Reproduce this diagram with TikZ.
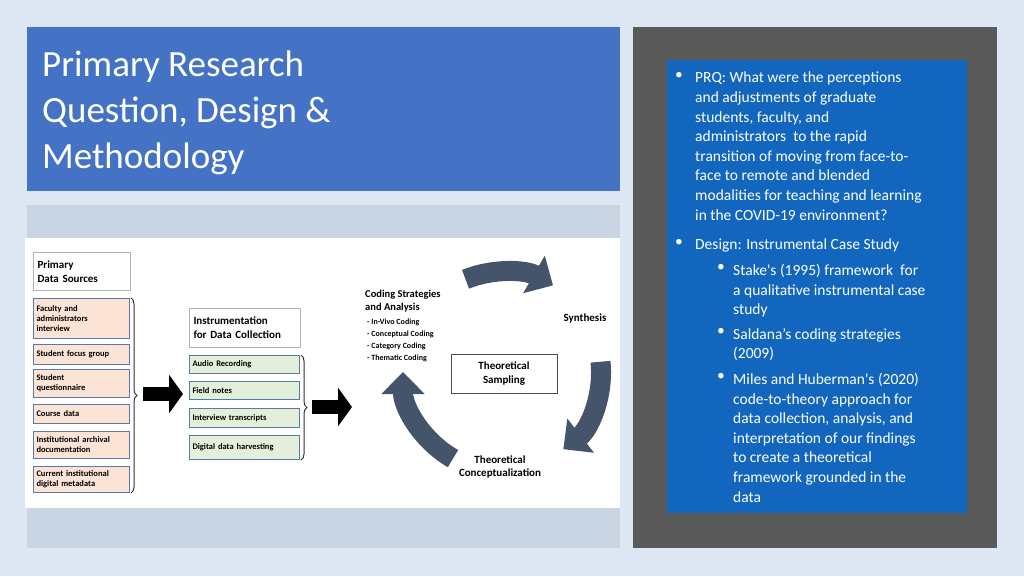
\documentclass[tikz,border=0pt]{standalone}
\usepackage{fontspec}
\setmainfont{Carlito}
\usetikzlibrary{arrows.meta,decorations.pathreplacing}
\definecolor{bg}{HTML}{DDE7F3}
\definecolor{tblue}{HTML}{4472C4}
\definecolor{band}{HTML}{C9D4E2}
\definecolor{dgray}{HTML}{595959}
\definecolor{rblue}{HTML}{1266BE}
\definecolor{pinkf}{HTML}{FBE3D6}
\definecolor{greenf}{HTML}{E2F0D9}
\definecolor{boxb}{HTML}{5A78A8}
\definecolor{cyc}{HTML}{44546A}
\tikzset{
 src/.style={draw=boxb,line width=1pt,fill=pinkf,align=left,anchor=north west,inner sep=3pt,font=\fontsize{8.5}{10}\selectfont\bfseries,text width=90pt},
 ins/.style={draw=boxb,line width=1pt,fill=greenf,align=left,anchor=north west,inner sep=3pt,font=\fontsize{8.5}{10}\selectfont\bfseries,text width=104pt},
 hdr/.style={draw=gray!60,line width=1pt,fill=white,align=left,anchor=north west,inner sep=4pt,font=\fontsize{11}{14}\selectfont\bfseries},
 brc/.style={draw=black!80,line width=1pt,decorate,decoration={brace,amplitude=6pt}},
 bigarr/.style={-{Triangle[width=38pt,length=14pt]},line width=14pt,black},
 cycarr/.style={-{Triangle[width=42pt,length=22pt]},line width=20pt,cyc},
 btxt/.style={anchor=north west,align=left,text=white,inner sep=0pt,font=\fontsize{15.5}{19.6}\selectfont},
}
\begin{document}
\begin{tikzpicture}[x=1pt,y=-1pt]
\useasboundingbox (0,0) rectangle (1024,576);
\fill[bg] (0,0) rectangle (1024,576);
\fill[tblue] (27,27) rectangle (620,191);
\node[anchor=north west,align=left,text=white,inner sep=0pt,font=\fontsize{37}{46}\selectfont] (title) at (42,51) {Primary Research\\Question, Design \&\\Methodology};
\fill[band] (27,205) rectangle (620,548);
\fill[white] (25,238) rectangle (620,508);
% right panel
\fill[dgray] (633,27) rectangle (997,548);
\fill[rblue] (667,60) rectangle (967,513);
\node[btxt] (b1) at (675,72) {•};
\node[btxt] (t1) at (695,72) {PRQ: What were the perceptions\\and adjustments of graduate\\students, faculty, and\\administrators\ \ to the rapid\\transition of moving from face-to-\\face to remote and blended\\modalities for teaching and learning\\in the COVID-19 environment?};
\node[btxt] (b2) at (675,239) {•};
\node[btxt] (t2) at (695,239) {Design: Instrumental Case Study};
\node[btxt] (b3) at (717,264) {•};
\node[btxt] (t3) at (733,264) {Stake\textquotesingle s (1995) framework\ \ for\\a qualitative instrumental case\\study};
\node[btxt] (b4) at (717,328) {•};
\node[btxt] (t4) at (733,328) {Saldana’s coding strategies\\(2009)};
\node[btxt] (b5) at (717,373) {•};
\node[btxt] (t5) at (733,373) {Miles and Huberman\textquotesingle s (2020)\\code-to-theory approach for\\data collection, analysis, and\\interpretation of our findings\\to create a theoretical\\framework grounded in the\\data};
% left diagram
\node[hdr,text width=89pt,minimum height=38pt] (pds) at (33,252) {Primary\\Data Sources};
\node[src,minimum height=40pt] (s1) at (33,298) {Faculty and\\administrators\\interview};
\node[src,minimum height=20pt] (s2) at (33,344) {Student focus group};
\node[src,minimum height=28pt] (s3) at (33,369) {Student\\questionnaire};
\node[src,minimum height=19pt] (s4) at (33,404) {Course data};
\node[src,minimum height=27pt] (s5) at (33,431) {Institutional archival\\documentation};
\node[src,minimum height=26pt] (s6) at (33,466) {Current institutional\\digital metadata};
\draw[brc] ([xshift=1pt]s1.north east) -- ([xshift=1pt]s6.south east);
\coordinate (a1s) at (143,394);
\coordinate (a1e) at (183,394);
\draw[bigarr] (a1s) -- (a1e);
\node[hdr,text width=103pt,minimum height=39pt] (ins) at (189,308) {Instrumentation\\for Data Collection};
\node[ins,minimum height=18pt] (i1) at (189,355) {Audio Recording};
\node[ins,minimum height=18pt] (i2) at (189,381) {Field notes};
\node[ins,minimum height=19pt] (i3) at (189,408) {Interview transcripts};
\node[ins,minimum height=24pt] (i4) at (189,435) {Digital data harvesting};
\draw[brc] ([xshift=1pt]i1.north east) -- ([xshift=1pt]i4.south east);
\coordinate (a2s) at (312,407);
\coordinate (a2e) at (352,407);
\draw[bigarr] (a2s) -- (a2e);
% cycle
\coordinate (cc) at (503,372);
\draw[cycarr] ([shift={(-112:100)}]cc) arc[start angle=-112,end angle=-60,radius=100];
\draw[cycarr] ([shift={(-6:98)}]cc) arc[start angle=-6,end angle=52,radius=98];
\draw[cycarr] ([shift={(120:100)}]cc) arc[start angle=120,end angle=180,radius=100];
\node[draw=black!70,line width=1pt,fill=white,minimum width=106pt,minimum height=39pt,align=center,font=\fontsize{11}{14}\selectfont\bfseries] (ts) at (504,374) {Theoretical\\Sampling};
\node[anchor=north west,align=left,inner sep=0pt,font=\fontsize{10.5}{13}\selectfont\bfseries] (cs) at (365,290) {Coding Strategies\\and Analysis};
\node[anchor=north west,align=left,inner sep=0pt,font=\fontsize{8}{12}\selectfont\bfseries] (cl) at (367,319) {- In-Vivo Coding\\- Conceptual Coding\\- Category Coding\\- Thematic Coding};
\node[font=\fontsize{11}{14}\selectfont\bfseries] (syn) at (585,318) {Synthesis};
\node[align=center,font=\fontsize{11}{13}\selectfont\bfseries] (tc) at (500,467) {Theoretical\\Conceptualization};
\end{tikzpicture}
\end{document}
